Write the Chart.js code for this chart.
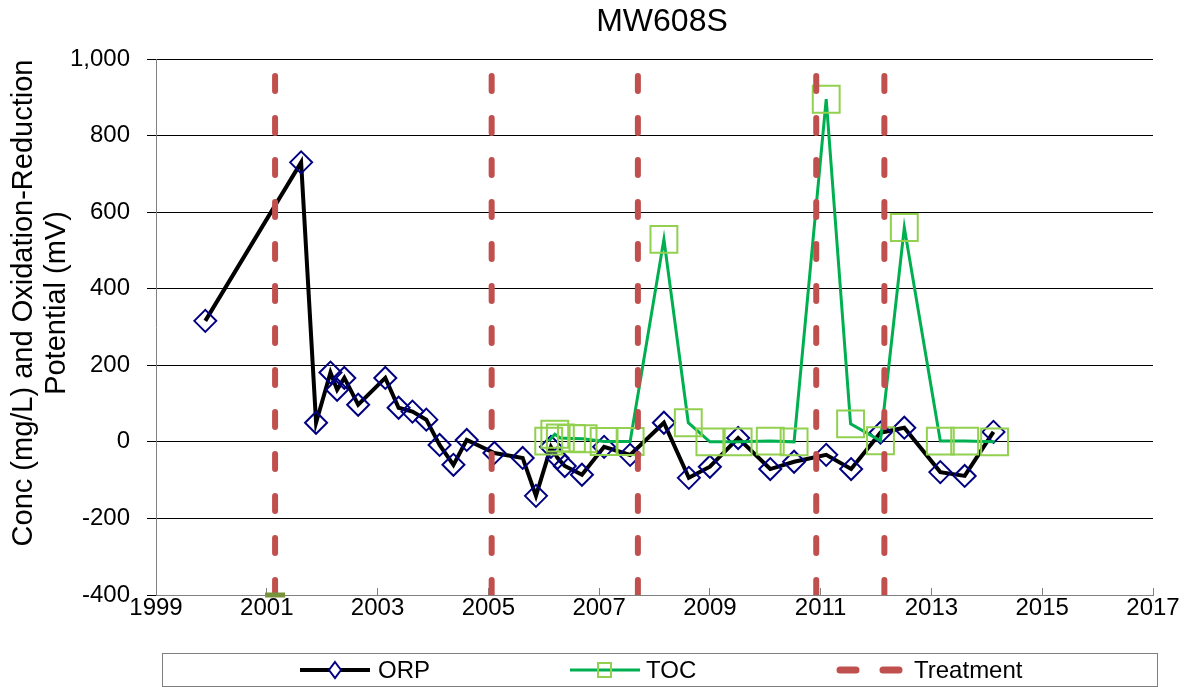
<!DOCTYPE html>
<html>
<head>
<meta charset="utf-8">
<script src="https://cdn.jsdelivr.net/npm/chart.js@4.4.1/dist/chart.umd.min.js"></script>
<style>
  html, body { margin: 0; padding: 0; background: #fff; }
</style>
</head>
<body>
<canvas id="chart" width="1186" height="687"></canvas>
<script>
// ORP (mV), sample dates as decimal years
const orpYears = [1999.89, 2001.62, 2001.89, 2002.15, 2002.27, 2002.40, 2002.65, 2003.14, 2003.38, 2003.63,
    2003.88, 2004.12, 2004.37, 2004.61, 2005.11, 2005.62, 2005.86, 2006.13, 2006.25, 2006.38,
    2006.69, 2007.09, 2007.56, 2008.17, 2008.62, 2009.00, 2009.51, 2010.09, 2010.52, 2011.10,
    2011.55, 2012.08, 2012.51, 2013.16, 2013.60, 2014.12];
const orpValues = [316, 730, 50, 181, 136, 167, 97, 167, 89, 79,
    58, -8, -60, 5, -29, -42, -141, -13, -42, -63,
    -86, -13, -34, 50, -94, -65, 10, -71, -52, -34,
    -71, 24, 37, -79, -89, 26];

// TOC (mg/L)
const tocYears = [2006.09, 2006.20, 2006.30, 2006.50, 2006.71, 2007.09, 2007.56, 2008.17, 2008.61, 2009.00,
    2009.51, 2010.09, 2010.52, 2011.10, 2011.54, 2012.08, 2012.51, 2013.16, 2013.60, 2014.14];
const tocValues = [2, 20, 10, 9, 8, 1, 1, 529, 50, 0,
    0, 2, 0, 895, 47, 3, 560, 2, 2, 0];

// treatment events
const treatmentYears = [2001.15, 2005.06, 2007.70, 2010.92, 2012.15];
const baseMarkYears = [2001.15];
const baseMarkValues = [-400];

const xTickValues = [1999, 2001, 2003, 2005, 2007, 2009, 2011, 2013, 2015, 2017];
const yMin = -400;
const yMax = 1000;
const yStep = 200;
const yTitleLines = ['Conc (mg/L) and Oxidation-Reduction', 'Potential (mV)'];

const FONT = '"Liberation Sans", Arial, sans-serif';

const orpData = orpYears.map((x, i) => ({ x: x, y: orpValues[i] }));
const tocData = tocYears.map((x, i) => ({ x: x, y: tocValues[i] }));
const treatmentData = [];
treatmentYears.forEach(yr => {
    treatmentData.push({ x: yr, y: yMin }, { x: yr, y: yMax }, { x: yr, y: null });
});
const baseMarkData = baseMarkYears.map((x, i) => ({ x: x, y: baseMarkValues[i] }));

// заголовок, подпись оси и легенду рисуем сами
const extrasPlugin = {
    id: 'extras',
    afterDraw(chart) {
        const ctx = chart.ctx;
        ctx.save();
        ctx.fillStyle = '#000';
        ctx.textBaseline = 'middle';
        ctx.textAlign = 'center';
        ctx.font = '32px ' + FONT;
        ctx.fillText('MW608S', 662, 22);

        // подпись оси Y (два ряда)
        ctx.font = '29px ' + FONT;
        [24, 57].forEach((cx, i) => {
            ctx.save();
            ctx.translate(cx, 303);
            ctx.rotate(-Math.PI / 2);
            ctx.fillText(yTitleLines[i], 0, 0);
            ctx.restore();
        });

        // рамка легенды
        ctx.strokeStyle = '#7f7f7f';
        ctx.lineWidth = 1;
        ctx.strokeRect(162.5, 653.5, 995, 33);

        const ly = 670;
        // ORP
        ctx.strokeStyle = '#000';
        ctx.lineWidth = 4;
        ctx.beginPath(); ctx.moveTo(300, ly); ctx.lineTo(370, ly); ctx.stroke();
        ctx.strokeStyle = '#000080';
        ctx.lineWidth = 2;
        ctx.fillStyle = '#fff';
        ctx.beginPath();
        ctx.moveTo(335, ly - 8); ctx.lineTo(341, ly); ctx.lineTo(335, ly + 8); ctx.lineTo(329, ly);
        ctx.closePath(); ctx.fill(); ctx.stroke();
        // TOC
        ctx.strokeStyle = '#00B050';
        ctx.lineWidth = 3;
        ctx.beginPath(); ctx.moveTo(570, ly); ctx.lineTo(640, ly); ctx.stroke();
        ctx.strokeStyle = '#92D050';
        ctx.lineWidth = 2;
        ctx.strokeRect(598, ly - 7, 13, 14);
        // Treatment
        ctx.strokeStyle = '#C0504D';
        ctx.lineWidth = 7;
        ctx.lineCap = 'round';
        ctx.beginPath(); ctx.moveTo(840, ly); ctx.lineTo(856, ly); ctx.stroke();
        ctx.beginPath(); ctx.moveTo(883, ly); ctx.lineTo(899, ly); ctx.stroke();

        ctx.fillStyle = '#000';
        ctx.textAlign = 'left';
        ctx.font = '24px ' + FONT;
        ctx.fillText('ORP', 378, ly + 1);
        ctx.fillText('TOC', 646, ly + 1);
        ctx.fillText('Treatment', 914, ly + 1);
        ctx.restore();
    }
};

new Chart(document.getElementById('chart'), {
    type: 'line',
    data: {
        datasets: [{
            label: 'ORP',
            data: orpData,
            borderColor: '#000',
            borderWidth: 4,
            pointStyle: 'rectRot',
            pointRadius: 11,
            pointBorderColor: '#000080',
            pointBackgroundColor: 'rgba(0,0,0,0)',
            pointBorderWidth: 2,
            order: 3
        }, {
            label: 'TOC',
            data: tocData,
            borderColor: '#00B050',
            borderWidth: 3,
            pointStyle: 'rect',
            pointRadius: 19,
            pointBorderColor: '#92D050',
            pointBackgroundColor: 'rgba(0,0,0,0)',
            pointBorderWidth: 2,
            order: 2
        }, {
            label: 'Treatment',
            data: treatmentData,
            borderColor: '#C0504D',
            borderWidth: 6,
            borderDash: [15, 27],
            borderCapStyle: 'round',
            pointRadius: 0,
            spanGaps: false,
            order: 1
        }, {
            label: 'base',
            data: baseMarkData,
            showLine: false,
            pointStyle: 'line',
            pointRadius: 10,
            pointBorderWidth: 5,
            pointBorderColor: '#77933C',
            clip: false,
            order: 0
        }]
    },
    options: {
        responsive: false,
        animation: false,
        events: [],
        layout: { padding: { top: 59, right: 33, left: 0, bottom: 0 } },
        plugins: {
            legend: { display: false },
            title: { display: false },
            tooltip: { enabled: false }
        },
        scales: {
            x: {
                type: 'linear',
                min: 1999,
                max: 2017,
                afterBuildTicks: s => { s.ticks = xTickValues.map(v => ({ value: v })); },
                afterFit: s => { s.height = 92; },
                ticks: {
                    callback: v => String(v),
                    color: '#000',
                    font: { family: FONT, size: 24 },
                    padding: 6,
                    maxRotation: 0,
                    autoSkip: false
                },
                grid: { drawOnChartArea: false, tickLength: -7, tickColor: '#808080' },
                border: { color: '#808080', width: 1 }
            },
            y: {
                min: yMin,
                max: yMax,
                afterFit: s => { s.width = 156; },
                ticks: {
                    stepSize: yStep,
                    color: '#000',
                    font: { family: FONT, size: 24 },
                    padding: 17
                },
                grid: {
                    color: c => (c.tick && c.tick.value === yMin) ? 'rgba(0,0,0,0)' : '#000',
                    tickColor: '#000',
                    tickLength: 9,
                    lineWidth: 1
                },
                border: { color: '#808080', width: 1 }
            }
        }
    },
    plugins: [extrasPlugin]
});
</script>
</body>
</html>
